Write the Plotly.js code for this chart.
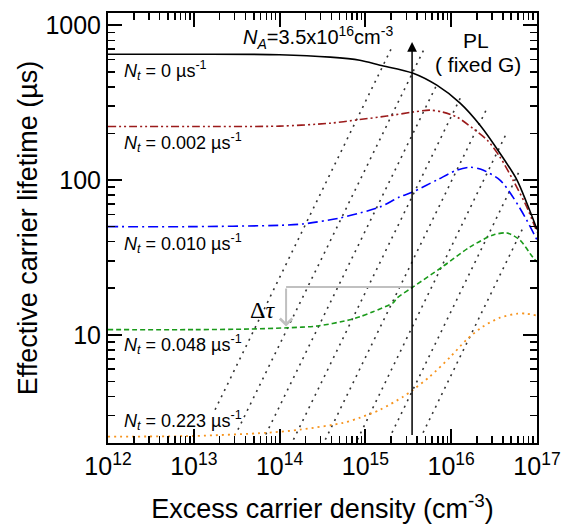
<!DOCTYPE html>
<html><head><meta charset="utf-8">
<script src="https://cdn.plot.ly/plotly-3.0.1.min.js"></script>
<style>html,body{margin:0;padding:0;background:#fff}</style>
</head><body>
<div id="chart" style="width:564px;height:531px"></div>
<script>
// ---- data ----
const dnNt0   = [1e12, 1e13, 1e14, 3.9e14, 8.6e14, 1.48e15, 3.6e15, 6.8e15, 1.27e16, 2.17e16, 3.7e16, 5.85e16, 7.6e16, 1e17];
const tauNt0  = [650, 650, 645, 622, 594, 552, 490, 410, 314, 226, 149, 100, 71, 48];

const dnNt1   = [1e12, 1e13, 1e14, 3.9e14, 8.6e14, 1.78e15, 3.6e15, 5.6e15, 7.9e15, 1.17e16, 1.78e16, 2.63e16, 3.7e16, 5.25e16, 7.6e16, 1e17];
const tauNt1  = [222, 222, 223, 233, 246, 259, 275, 283, 275, 255, 216, 181, 141, 100, 67, 46];

const dnNt2   = [1e12, 1e13, 1e14, 1.86e14, 5e14, 8.7e14, 1.48e15, 2.5e15, 3.6e15, 6.8e15, 1.17e16, 1.66e16, 2.34e16, 3.7e16, 5.25e16, 7.6e16, 1e17];
const tauNt2  = [50, 50, 51, 52, 56.8, 61.3, 67, 77.6, 84, 100, 116, 121, 116, 100, 77.6, 55, 41];

const dnNt3   = [1e12, 1e13, 4.5e13, 1.23e14, 2.75e14, 6.6e14, 8.7e14, 1.23e15, 2.1e15, 2.34e15, 3.6e15, 7.9e15, 1.66e16, 3.1e16, 4.47e16, 6.3e16, 8.9e16, 1e17];
const tauNt3  = [10.8, 10.8, 10.9, 11.1, 11.4, 12.5, 13.1, 14.1, 16.1, 17.3, 20.4, 27.5, 37, 44.2, 45.5, 41, 31.8, 29.6];

const dnNt4   = [1e12, 1e13, 7.1e13, 1.74e14, 5.5e14, 8.7e14, 1.48e15, 2.75e15, 3.6e15, 5.6e15, 9.8e15, 1.51e16, 2.34e16, 3.7e16, 5.9e16, 7.6e16, 1e17];
const tauNt4  = [2.2, 2.22, 2.33, 2.44, 2.70, 2.92, 3.28, 3.98, 4.42, 5.36, 7.21, 9.3, 11.3, 12.9, 13.7, 13.7, 13.3];

const seriesLabels = ['0', '0.002', '0.010', '0.048', '0.223'];

// fixed-generation lines (start / end points)
const genDn0  = [1.77e13, 3.27e13, 6.9e13, 1.45e14, 3.41e14, 8.07e14, 2.04e15, 4.7e15];
const genTau0 = [3.28, 2.44, 2.27, 2.1, 2.1, 2.1, 2.33, 2.33];
const genDn1  = [2.04e15, 4.95e15, 6.75e15, 1.29e16, 2.55e16, 4.47e16, 6.17e16, 7.1e16];
const genTau1 = [721, 721, 410, 343, 283, 204, 113, 51];

// PL arrow at fixed dn, and delta-tau bracket
const arrowDn = 3.5e15, arrowTauLow = 2.2, arrowTauHigh = 780;
const dtDnLeft = 1.19e14, dtTauTop = 20.4, dtTauBottom = 11.3;

const xTickVals = [1e12, 1e13, 1e14, 1e15, 1e16, 1e17];
const xTickText = ['10<sup>12</sup>', '10<sup>13</sup>', '10<sup>14</sup>', '10<sup>15</sup>', '10<sup>16</sup>', '10<sup>17</sup>'];
const yTickVals = [10, 100, 1000];
const yTickText = ['10', '100', '1000'];

// ---- build ----
const genX = [], genY = [];
for (let i = 0; i < genDn0.length; i++) {
  genX.push(genDn0[i], genDn1[i], null);
  genY.push(genTau0[i], genTau1[i], null);
}
const minorX = [], minorY = [];
for (let d = 12; d < 17; d++) for (let k = 2; k <= 9; k++) minorX.push(k * Math.pow(10, d));
for (let d = 0; d < 4; d++) for (let k = 2; k <= 9; k++) { const v = k * Math.pow(10, d); if (v >= 2 && v <= 1200) minorY.push(v); }

const traces = [
  {x: genX, y: genY, mode: 'lines', line: {color: '#333', width: 1.6, dash: '2px,5px'}, connectgaps: false},
  {x: [dtDnLeft, arrowDn], y: [dtTauTop, dtTauTop], mode: 'lines', line: {color: '#c0c0c0', width: 2}},
  {x: dnNt4, y: tauNt4, mode: 'lines', line: {color: '#f7941d', width: 1.8, dash: '2px,4px', shape: 'spline', smoothing: 0.8}},
  {x: dnNt3, y: tauNt3, mode: 'lines', line: {color: '#1a9a1a', width: 1.6, dash: '5px,3px', shape: 'spline', smoothing: 0.8}},
  {x: dnNt2, y: tauNt2, mode: 'lines', line: {color: '#0000ff', width: 1.6, dash: '10px,4px,2px,4px', shape: 'spline', smoothing: 0.8}},
  {x: dnNt1, y: tauNt1, mode: 'lines', line: {color: '#9b1b1b', width: 1.6, dash: '8px,3px,2px,3px,2px,3px', shape: 'spline', smoothing: 0.8}},
  {x: dnNt0, y: tauNt0, mode: 'lines', line: {color: '#000', width: 1.6, shape: 'spline', smoothing: 0.8}}
];

const labelY = [0.867, 0.700, 0.465, 0.228, 0.053];
const annotations = seriesLabels.map((s, i) => ({
  xref: 'paper', yref: 'paper', x: 0.033, y: labelY[i], xanchor: 'left', yanchor: 'middle',
  text: '<i>N</i><sub><i>t</i></sub> = ' + s + ' µs<sup>-1</sup>', showarrow: false,
  font: {family: 'Arial, Liberation Sans', size: 18, color: '#000'}
}));
annotations.push(
  {xref: 'paper', yref: 'paper', x: 0.49, y: 0.942, xanchor: 'center', yanchor: 'middle', showarrow: false,
   text: '<i>N</i><sub><i>A</i></sub>=3.5x10<sup>16</sup>cm<sup>-3</sup>', font: {family: 'Arial, Liberation Sans', size: 20, color: '#000'}},
  {xref: 'paper', yref: 'paper', x: 0.858, y: 0.937, xanchor: 'center', yanchor: 'middle', showarrow: false,
   text: 'PL', font: {family: 'Arial, Liberation Sans', size: 21, color: '#000'}},
  {xref: 'paper', yref: 'paper', x: 0.862, y: 0.881, xanchor: 'center', yanchor: 'middle', showarrow: false,
   text: '( fixed G)', font: {family: 'Arial, Liberation Sans', size: 21, color: '#000'}},
  {xref: 'paper', yref: 'paper', x: 0.359, y: 0.309, xanchor: 'center', yanchor: 'middle', showarrow: false,
   text: 'Δ<i>τ</i>', font: {family: 'Liberation Serif, Times New Roman', size: 24, color: '#000'}},
  {xref: 'x', yref: 'y', x: Math.log10(arrowDn), y: Math.log10(arrowTauHigh), axref: 'x', ayref: 'y',
   ax: Math.log10(arrowDn), ay: Math.log10(arrowTauLow), showarrow: true, arrowhead: 2, arrowsize: 1.3,
   arrowwidth: 1.5, arrowcolor: '#000', text: '', standoff: 0, startstandoff: 0},
  {xref: 'x', yref: 'y', x: Math.log10(dtDnLeft), y: Math.log10(dtTauBottom), axref: 'x', ayref: 'y',
   ax: Math.log10(dtDnLeft), ay: Math.log10(dtTauTop), showarrow: true, arrowhead: 4, arrowsize: 1.2,
   arrowwidth: 2, arrowcolor: '#c0c0c0', text: '', standoff: 0, startstandoff: 0}
);

const tickFont = {family: 'Arial, Liberation Sans', size: 25, color: '#000'};
const titleFont = {family: 'Arial, Liberation Sans', size: 27, color: '#000'};

const layout = {
  width: 564, height: 531,
  margin: {l: 108, r: 27, t: 13, b: 88},
  paper_bgcolor: '#fff', plot_bgcolor: '#fff', showlegend: false,
  xaxis: {
    type: 'log', range: [12, 17], tickmode: 'array', tickvals: xTickVals, ticktext: xTickText,
    showgrid: false, zeroline: false, showline: true, linecolor: '#000', linewidth: 2,
    mirror: 'allticks', ticks: 'inside', ticklen: 14, tickwidth: 2, tickcolor: '#000', tickfont: tickFont,
    minor: {tickmode: 'array', tickvals: minorX, ticks: 'inside', ticklen: 7, tickwidth: 1.5, tickcolor: '#000'},
    title: {text: 'Excess carrier density (cm<sup>-3</sup>)', font: titleFont, standoff: 20}
  },
  yaxis: {
    type: 'log', range: [Math.log10(2), Math.log10(1200)], tickmode: 'array', tickvals: yTickVals, ticktext: yTickText,
    showgrid: false, zeroline: false, showline: true, linecolor: '#000', linewidth: 2,
    mirror: 'allticks', ticks: 'inside', ticklen: 14, tickwidth: 2, tickcolor: '#000', tickfont: tickFont,
    minor: {tickmode: 'array', tickvals: minorY, ticks: 'inside', ticklen: 7, tickwidth: 1.5, tickcolor: '#000'},
    title: {text: 'Effective carrier lifetime (µs)', font: titleFont, standoff: 0}
  },
  annotations: annotations
};

const gd = document.getElementById('chart');
Plotly.newPlot(gd, traces, layout, {staticPlot: true, displayModeBar: false}).then(() =>
  // redraw the axes once more so the inside ticks are surely painted
  Plotly.relayout(gd, {'xaxis.ticklen': 14, 'yaxis.ticklen': 14})
);
</script></body></html>
